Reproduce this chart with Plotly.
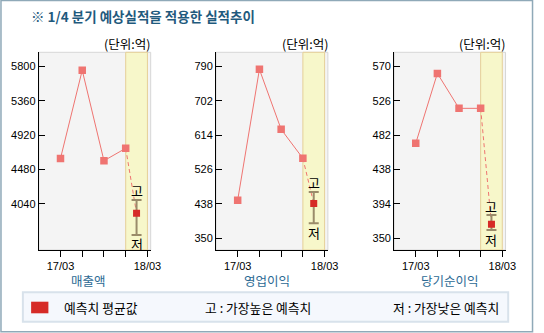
import plotly.graph_objects as go

W, H = 544, 333

# ---- data ----
categories = ["매출액", "영업이익", "당기순이익"]
x_labels = ["17/03", "", "", "", "18/03"]
sales_actual = [4621, 5749, 4591, 4750]
sales_fc = {"mean": 3918, "high": 4089, "low": 3641}
op_actual = [447.5, 782.3, 628.8, 554.6]
op_fc = {"mean": 439, "high": 468.7, "low": 388.6}
net_actual = [471.5, 561, 516.3, 516.3]
net_fc = {"mean": 367.8, "high": 379.7, "low": 360.5}
sales_ticks = [4040, 4480, 4920, 5360, 5800]
op_ticks = [350, 438, 526, 614, 702, 790]
net_ticks = [350, 394, 438, 482, 526, 570]
y_ranges = [[3448, 5979], [320, 826], [335, 588]]

panels = [
    (sales_actual, sales_fc, sales_ticks, y_ranges[0]),
    (op_actual, op_fc, op_ticks, y_ranges[1]),
    (net_actual, net_fc, net_ticks, y_ranges[2]),
]

SALMON = "#ef7471"
RED = "#d62b27"
ERR = "#9a8b6a"
BAND = "#f7f7ca"
BAND_EDGE = "#e5cf98"
KFONT = "Noto Sans CJK KR"
NFONT = "Liberation Sans"

def px(x):
    return x / W

def py(y):
    return 1 - y / H

x_domains = [(39.5, 153.5), (220.0, 334.0), (401.5, 515.0)]
y_dom = [py(250.0), py(52.3)]
unit_titles_right = [155, 336, 516]
cat_centers = [90, 271.5, 458]

fig = go.Figure()
layout = dict(
    width=W, height=H, margin=dict(l=0, r=0, t=0, b=0),
    paper_bgcolor="white", plot_bgcolor="rgba(0,0,0,0)",
    showlegend=False, shapes=[], annotations=[],
)

for i, (actual, fc, ticks, yr) in enumerate(panels):
    n = "" if i == 0 else str(i + 1)
    xa, ya = "x" + n, "y" + n
    xs = list(range(len(actual)))
    fx = len(actual) - 0.5
    # actual line
    fig.add_trace(go.Scatter(
        x=xs, y=actual, xaxis=xa, yaxis=ya, mode="lines+markers",
        line=dict(color=SALMON, width=1),
        marker=dict(symbol="square", size=7.5, color=SALMON),
        hoverinfo="skip"))
    # dashed connection to forecast
    fig.add_trace(go.Scatter(
        x=[xs[-1], fx], y=[actual[-1], fc["mean"]], xaxis=xa, yaxis=ya,
        mode="lines", line=dict(color=SALMON, width=1, dash="4px,3px"),
        hoverinfo="skip"))
    # forecast mean with range
    fig.add_trace(go.Scatter(
        x=[fx], y=[fc["mean"]], xaxis=xa, yaxis=ya, mode="markers",
        marker=dict(symbol="square", size=7, color=RED),
        error_y=dict(type="data", symmetric=False,
                     array=[fc["high"] - fc["mean"]],
                     arrayminus=[fc["mean"] - fc["low"]],
                     color=ERR, thickness=2, width=5),
        hoverinfo="skip"))
    # axes
    d = x_domains[i]
    top = yr[1]
    layout["xaxis" + n] = dict(
        domain=[px(d[0]), px(d[1])], anchor=ya, range=[-1, 4.15],
        tickvals=list(range(5)), ticktext=x_labels, ticks="outside",
        ticklen=6, tickcolor="black", showline=True, linecolor="black",
        linewidth=1, showgrid=False, zeroline=False, fixedrange=True,
        tickfont=dict(family=NFONT, size=11, color="black"))
    layout["yaxis" + n] = dict(
        domain=y_dom, anchor=xa, range=yr,
        tickvals=ticks + [top], ticktext=[str(t) for t in ticks] + [""],
        ticks="inside", ticklen=6, tickcolor="black", showline=True,
        linecolor="black", linewidth=1, showgrid=False, zeroline=False,
        fixedrange=True, tickfont=dict(family=NFONT, size=11, color="black"))
    # plot area background
    layout["shapes"].append(dict(
        type="rect", xref=xa + " domain", yref=ya + " domain",
        x0=0, x1=1, y0=0, y1=1, layer="below",
        fillcolor="#f4f4f4", line=dict(color="#d6d6d6", width=1)))
    # forecast band
    layout["shapes"].append(dict(
        type="rect", xref=xa, yref=ya + " domain",
        x0=xs[-1], x1=xs[-1] + 1, y0=0, y1=1, layer="below",
        fillcolor=BAND, line=dict(color=BAND_EDGE, width=1)))
    # 고 / 저 labels
    layout["annotations"].append(dict(
        xref=xa, yref=ya, x=fx, y=fc["high"], text="고", showarrow=False,
        yanchor="middle", yshift=9, font=dict(family=KFONT, size=13, color="black")))
    layout["annotations"].append(dict(
        xref=xa, yref=ya, x=fx, y=fc["low"], text="저", showarrow=False,
        yanchor="middle", yshift=-9, font=dict(family=KFONT, size=13, color="black")))
    # unit label
    layout["annotations"].append(dict(
        xref="paper", yref="paper", x=px(unit_titles_right[i]), y=py(43.3),
        xanchor="right", yanchor="middle", text="(단위:억)", showarrow=False,
        font=dict(family=KFONT, size=12.5, color="black")))
    # category label
    layout["annotations"].append(dict(
        xref="paper", yref="paper", x=px(cat_centers[i]), y=py(280),
        xanchor="center", yanchor="middle", text=categories[i], showarrow=False,
        font=dict(family=KFONT, size=12.5, color="#2c6a94")))

# title
layout["annotations"].append(dict(
    xref="paper", yref="paper", x=px(30), y=py(16), xanchor="left",
    yanchor="middle", showarrow=False,
    text="<b>※ 1/4 분기 예상실적을 적용한 실적추이</b>",
    font=dict(family=KFONT, size=13.5, color="#1f5a7d")))

# legend box
layout["shapes"].append(dict(
    type="rect", xref="paper", yref="paper",
    x0=px(23.3), x1=px(517.7), y0=py(321.7), y1=py(292.3),
    fillcolor="#f5f8fd", line=dict(color="#d8e2eb", width=2)))
layout["shapes"].append(dict(
    type="rect", xref="paper", yref="paper",
    x0=px(31.7), x1=px(49.3), y0=py(313.3), y1=py(301.7),
    fillcolor=RED, line=dict(width=0)))
for txt, xl in [("예측치 평균값", 63), ("고 : 가장높은 예측치", 206.7),
                ("저 : 가장낮은 예측치", 398.7)]:
    layout["annotations"].append(dict(
        xref="paper", yref="paper", x=px(xl), y=py(307.5), xanchor="left",
        yanchor="middle", text=txt, showarrow=False,
        font=dict(family=KFONT, size=12.8, color="black")))

# outer frame
layout["shapes"].append(dict(
    type="rect", xref="paper", yref="paper",
    x0=px(1), x1=px(542.5), y0=py(331.7), y1=py(0.5),
    fillcolor="rgba(0,0,0,0)", line=dict(color="#8fa9b8", width=1.5)))

fig.update_layout(**layout)
fig.write_html("out.html")
